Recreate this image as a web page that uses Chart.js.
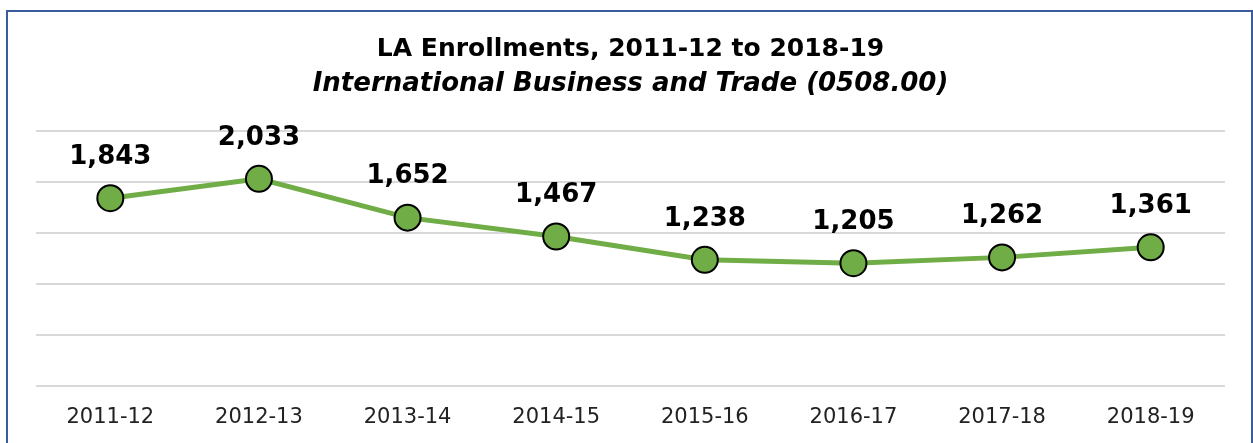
<!DOCTYPE html>
<html>
<head>
<meta charset="utf-8">
<script src="https://cdn.jsdelivr.net/npm/chart.js@4.4.1/dist/chart.umd.min.js"></script>
<style>
  html, body { margin: 0; padding: 0; background: #fff; }
  #wrap { position: relative; width: 1253px; height: 443px; }
  #frame {
    position: absolute; left: 6px; top: 10px; width: 1243px; height: 440px;
    border: 2px solid #3b5c9c; border-bottom: none; pointer-events: none;
  }
</style>
</head>
<body>
<div id="wrap">
  <canvas id="chart" width="1253" height="443"></canvas>
  <div id="frame"></div>
</div>
<script>
// data
const years = ['2011-12', '2012-13', '2013-14', '2014-15', '2015-16', '2016-17', '2017-18', '2018-19'];
const enrollments = [1843, 2033, 1652, 1467, 1238, 1205, 1262, 1361];
const yTicks = [0, 500, 1000, 1500, 2000, 2500];

const FONT = '"DejaVu Sans", sans-serif';

// value labels above each point
const pointLabels = {
  id: 'pointLabels',
  afterDatasetsDraw(chart) {
    const ctx = chart.ctx;
    const meta = chart.getDatasetMeta(0);
    ctx.save();
    ctx.font = 'bold 26px ' + FONT;
    ctx.fillStyle = '#000';
    ctx.textAlign = 'center';
    ctx.textBaseline = 'middle';
    meta.data.forEach((pt, i) => {
      ctx.fillText(enrollments[i].toLocaleString('en-US'), pt.x, pt.y - 41);
    });
    ctx.restore();
  }
};

new Chart(document.getElementById('chart'), {
  type: 'line',
  data: {
    labels: years,
    datasets: [{
      data: enrollments,
      borderColor: '#70ad47',
      borderWidth: 5,
      pointRadius: 13,
      pointBackgroundColor: '#70ad47',
      pointBorderColor: '#000',
      pointBorderWidth: 2,
      tension: 0
    }]
  },
  options: {
    responsive: false,
    animation: false,
    layout: { padding: { left: 36, right: 28, top: 0, bottom: 0 } },
    plugins: {
      legend: { display: false },
      tooltip: { enabled: false },
      title: {
        display: true,
        text: 'LA Enrollments, 2011-12 to 2018-19',
        color: '#000',
        font: { family: FONT, size: 25, weight: 'bold' },
        padding: { top: 34, bottom: 5 }
      },
      subtitle: {
        display: true,
        text: 'International Business and Trade (0508.00)',
        color: '#000',
        font: { family: FONT, size: 26, weight: 'bold', style: 'italic' },
        padding: { top: 0, bottom: 31 }
      }
    },
    scales: {
      x: {
        offset: true,
        grid: { display: false },
        border: { display: false },
        afterFit(axis) { axis.height = 57; },
        ticks: {
          color: '#222',
          padding: 11,
          font: { family: FONT, size: 21 }
        }
      },
      y: {
        min: yTicks[0],
        max: yTicks[yTicks.length - 1],
        afterBuildTicks(axis) { axis.ticks = yTicks.map(v => ({ value: v })); },
        grid: { color: '#d9d9d9', lineWidth: 2, drawTicks: false },
        border: { display: false },
        ticks: { display: false }
      }
    }
  },
  plugins: [pointLabels]
});
</script>
</body>
</html>
